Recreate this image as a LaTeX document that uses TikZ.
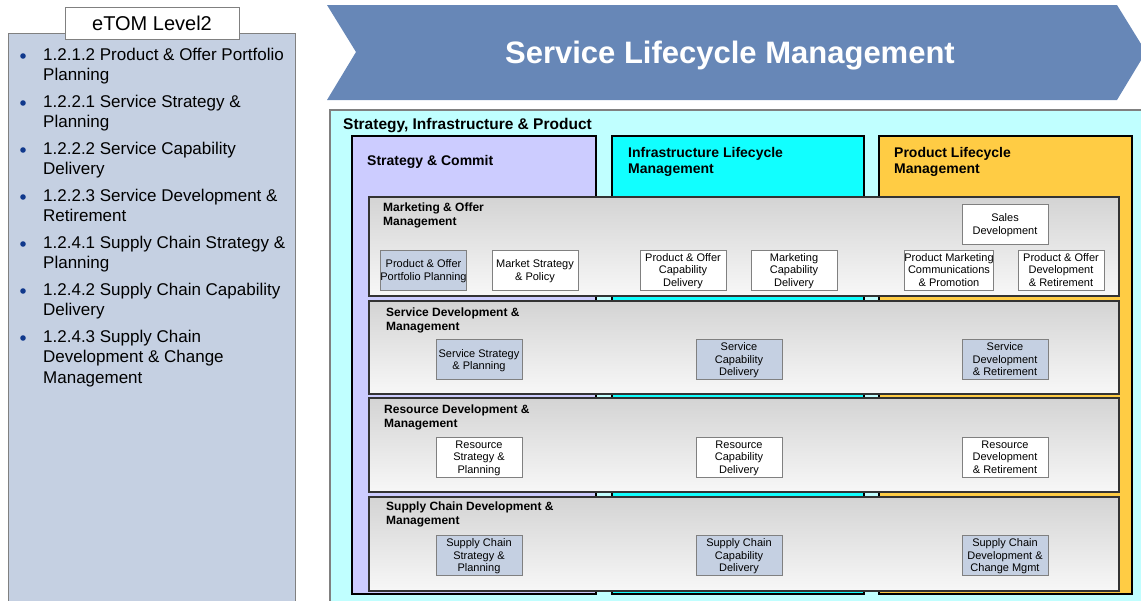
\documentclass[tikz,border=0pt]{standalone}
\usepackage{fontspec}
\setmainfont{Liberation Sans}
\usetikzlibrary{positioning}
\definecolor{panelblue}{RGB}{197,208,226}
\definecolor{headblue}{RGB}{103,135,183}
\definecolor{sipcyan}{RGB}{192,255,255}
\definecolor{stratlav}{RGB}{204,204,255}
\definecolor{infracyan}{RGB}{17,255,255}
\definecolor{prodgold}{RGB}{255,204,68}
\definecolor{bulletblue}{RGB}{16,56,140}
\definecolor{boxgray}{RGB}{128,128,128}

\begin{document}
\begin{tikzpicture}[x=1pt, y=-1pt]
  \useasboundingbox (0,0) rectangle (1141,600);

  \tikzset{
    colbox/.style={draw=black, line width=1.2pt, fill=#1, inner sep=0pt},
    rowbox/.style={draw=black!80, line width=1.6pt, top color=black!17,
                   bottom color=black!3, minimum width=750pt, inner sep=0pt},
    procbox/.style={draw=boxgray, line width=1pt, fill=#1, minimum width=86pt,
                    minimum height=40pt, inner sep=0pt, align=center,
                    text depth=-1pt, font=\fontsize{11}{12.5}\selectfont},
    rowtitle/.style={anchor=north west, inner sep=0pt, align=left,
                     font=\fontsize{12}{14}\selectfont\bfseries},
    coltitle/.style={anchor=north west, inner sep=0pt, align=left,
                     font=\fontsize{14}{16}\selectfont\bfseries},
    listitem/.style={anchor=north west, inner sep=0pt, align=left,
                     font=\fontsize{17}{20.5}\selectfont}
  }

  % Left panel: eTOM level 2 list
  \draw[draw=boxgray, fill=panelblue, line width=1pt] (8,33) rectangle (295,620);
  \node[draw=boxgray, fill=white, line width=1pt, minimum width=174pt,
        minimum height=32pt, inner sep=0pt, font=\fontsize{20}{24}\selectfont]
    (lvl) at (152,23) {eTOM Level2};
  \foreach \ty/\txt [count=\i] in {
      47.5/{1.2.1.2 Product \& Offer Portfolio\\Planning},
      94.5/{1.2.2.1 Service Strategy \&\\Planning},
      141.5/{1.2.2.2 Service Capability\\Delivery},
      188.5/{1.2.2.3 Service Development \&\\Retirement},
      235.5/{1.2.4.1 Supply Chain Strategy \&\\Planning},
      282.5/{1.2.4.2 Supply Chain Capability\\Delivery},
      329.5/{1.2.4.3 Supply Chain\\Development \& Change\\Management}} {
    \fill[bulletblue] (23,{\ty+8.5}) circle (2.8pt);
    \node[listitem] (item\i) at (43,\ty) {\txt};
  }

  % Header chevron
  \fill[headblue] (327,5) -- (1117,5) -- (1146,52) -- (1117,100)
    -- (327,100) -- (356,52) -- cycle;
  \node[text=white, font=\fontsize{31}{36}\selectfont\bfseries] (hdr) at (730,56)
    {Service Lifecycle Management};

  % Strategy, Infrastructure & Product frame
  \draw[draw=boxgray, fill=sipcyan, line width=1.5pt] (330,110) rectangle (1160,620);
  \node[anchor=north west, inner sep=0pt, font=\fontsize{15.5}{18}\selectfont\bfseries]
    (sip) at (343,118) {Strategy, Infrastructure \& Product};

  % Vertical columns
  \node[colbox=stratlav,  minimum width=244pt, minimum height=458pt] (colsc) at (474,365) {};
  \node[colbox=infracyan, minimum width=252pt, minimum height=458pt] (colil) at (738,365) {};
  \node[colbox=prodgold,  minimum width=253pt, minimum height=458pt] (colpl) at (1005.5,365) {};
  \node[coltitle] (tsc) at (367,155) {Strategy \& Commit};
  \node[coltitle] (til) at (628,147.5) {Infrastructure Lifecycle\\Management};
  \node[coltitle] (tpl) at (894,147.5) {Product Lifecycle\\Management};

  % Horizontal rows
  \node[rowbox, minimum height=99pt] (rmkt) at (744,246.5) {};
  \node[rowbox, minimum height=93pt] (rsvc) at (744,347.5) {};
  \node[rowbox, minimum height=94pt] (rres) at (744,445) {};
  \node[rowbox, minimum height=94pt] (rsup) at (744,544) {};
  \node[rowtitle] (tmkt) at (383,203) {Marketing \& Offer\\Management};
  \node[rowtitle] (tsvc) at (386,307.5) {Service Development \&\\Management};
  \node[rowtitle] (tres) at (384,404.5) {Resource Development \&\\Management};
  \node[rowtitle] (tsup) at (386,501.5) {Supply Chain Development \&\\Management};

  % Marketing & Offer processes
  \node[procbox=panelblue] (pofpp) at (423.5,270) {Product \& Offer\\Portfolio Planning};
  \node[procbox=white] (msp)   at (535,270)  {Market Strategy\\\& Policy};
  \node[procbox=white] (pocd)  at (683,270)  {Product \& Offer\\Capability\\Delivery};
  \node[procbox=white] (mcd)   at (794,270)  {Marketing\\Capability\\Delivery};
  \node[procbox=white] (sdev)  at (1005,224) {Sales\\Development};
  \node[procbox=white] (pmcp)  at (949,270)  {Product Marketing\\Communications\\\& Promotion};
  \node[procbox=white] (podr)  at (1061,270) {Product \& Offer\\Development\\\& Retirement};

  % Service processes
  \node[procbox=panelblue] (ssp) at (479,359.5)  {Service Strategy\\\& Planning};
  \node[procbox=panelblue] (scd) at (739,359.5)  {Service\\Capability\\Delivery};
  \node[procbox=panelblue] (sdr) at (1005,359.5) {Service\\Development\\\& Retirement};

  % Resource processes
  \node[procbox=white] (rsp) at (479,457)  {Resource\\Strategy \&\\Planning};
  \node[procbox=white] (rcd) at (739,457)  {Resource\\Capability\\Delivery};
  \node[procbox=white] (rdr) at (1005,457) {Resource\\Development\\\& Retirement};

  % Supply chain processes
  \node[procbox=panelblue] (csp) at (479,555.5)  {Supply Chain\\Strategy \&\\Planning};
  \node[procbox=panelblue] (ccd) at (739,555.5)  {Supply Chain\\Capability\\Delivery};
  \node[procbox=panelblue] (cdc) at (1005,555.5) {Supply Chain\\Development \&\\Change Mgmt};

\end{tikzpicture}
\end{document}
